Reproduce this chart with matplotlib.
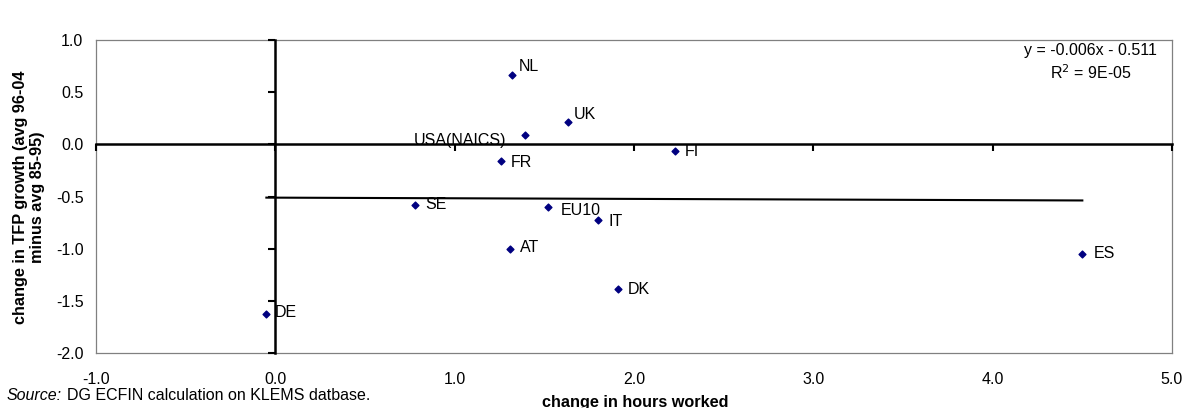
import matplotlib.pyplot as plt
import numpy as np

plt.rcParams['font.family'] = ['Liberation Sans', 'DejaVu Sans']

# data
countries = ['NL', 'UK', 'USA(NAICS)', 'FR', 'FI', 'SE', 'EU10', 'IT', 'AT', 'DE', 'ES', 'DK']
hours = [1.32, 1.63, 1.39, 1.26, 2.23, 0.78, 1.52, 1.80, 1.31, -0.05, 4.50, 1.91]
tfp = [0.66, 0.21, 0.09, -0.16, -0.06, -0.58, -0.60, -0.73, -1.00, -1.63, -1.05, -1.39]
# label offsets in pixels (dx, dy)
offsets = [(7, 9), (6, 8), (-18, -6), (9, -1), (10, -1), (10, 0), (13, -4), (10, -1), (10, 1), (8, 2), (11, 0), (10, 0)]

slope, intercept = -0.006, -0.511
r2_text = 'R$^2$ = 9E-05'

xticks = np.arange(-1, 5.01, 1.0)
yticks = np.arange(-2, 1.01, 0.5)

fs = 11.5

fig = plt.figure(figsize=(11.85, 4.08), dpi=100)
pos = [96 / 1185, 1 - 353 / 408, (1172 - 96) / 1185, (353 - 40) / 408]

ax = fig.add_axes(pos)
ax.set_xlim(-1, 5)
ax.set_ylim(-2, 1)
ax.set_xticks(xticks)
ax.set_yticks(yticks)
ax.set_xticklabels(['%.1f' % v for v in xticks])
ax.set_yticklabels(['%.1f' % v for v in yticks])
ax.tick_params(length=0, labelsize=fs)
ax.tick_params(axis='x', pad=14)
ax.tick_params(axis='y', pad=9)
for s in ax.spines.values():
    s.set_color('#808080')
    s.set_linewidth(0.9)

# zero axes with tick marks
ax2 = fig.add_axes(pos, sharex=ax, sharey=ax)
ax2.patch.set_visible(False)
ax2.spines['top'].set_visible(False)
ax2.spines['right'].set_visible(False)
ax2.spines['left'].set_position(('data', 0))
ax2.spines['bottom'].set_position(('data', 0))
for k in ['left', 'bottom']:
    ax2.spines[k].set_linewidth(1.8)
    ax2.spines[k].set_color('black')
ax2.tick_params(direction='out', length=5, width=1.5, labelleft=False, labelbottom=False)

# trend line
xs = np.array([min(hours), max(hours)])
ax2.plot(xs, slope * xs + intercept, color='black', lw=1.5)

ax2.scatter(hours, tfp, marker='D', s=12, color='#000080', zorder=5)
for name, x, y, (dx, dy) in zip(countries, hours, tfp, offsets):
    ha = 'right' if dx < 0 else 'left'
    ax2.annotate(name, (x, y), xytext=(dx, dy), textcoords='offset pixels',
                 ha=ha, va='center', fontsize=fs)

ax2.text(1090 / 1185, 1 - 51 / 408, 'y = -0.006x - 0.511', transform=fig.transFigure,
         ha='center', va='center', fontsize=fs)
ax2.text(1091 / 1185, 1 - 73 / 408, r2_text, transform=fig.transFigure,
         ha='center', va='center', fontsize=fs)

fig.text(29 / 1185, 1 - 197 / 408, 'change in TFP growth (avg 96-04\nminus avg 85-95)',
         rotation=90, ha='center', va='center', fontsize=11.7, fontweight='bold',
         linespacing=1.2)
fig.text(635 / 1185, 1 - 402 / 408, 'change in hours worked', ha='center', va='center',
         fontsize=11.7, fontweight='bold')
fig.text(7 / 1185, 1 - 396 / 408, 'Source:', ha='left', va='center', fontsize=fs, style='italic')
fig.text(67 / 1185, 1 - 396 / 408, 'DG ECFIN calculation on KLEMS datbase.', ha='left',
         va='center', fontsize=fs)

fig.savefig('out.png', dpi=100)
